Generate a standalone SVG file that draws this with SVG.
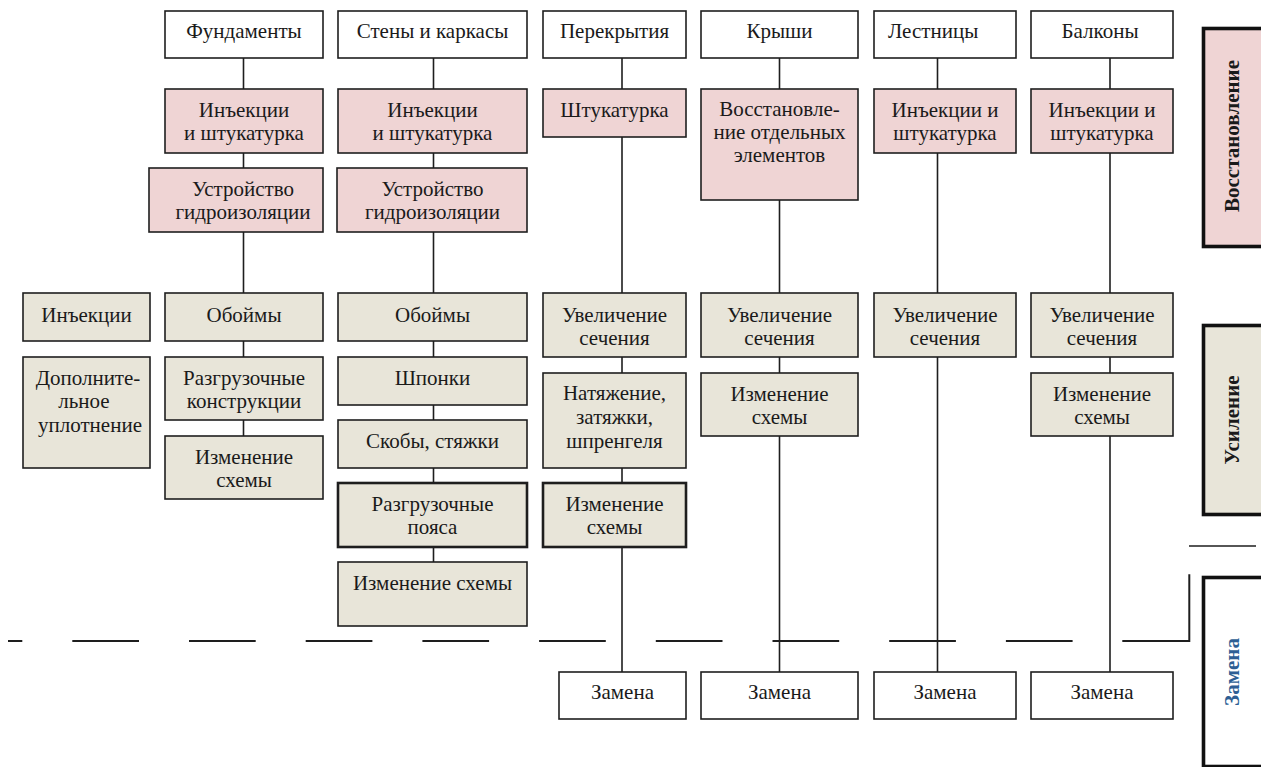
<svg xmlns="http://www.w3.org/2000/svg" width="1261" height="767" viewBox="0 0 1261 767">
<style>
.b{stroke:#1e1e1e;stroke-width:1.6}
.tk{stroke-width:2.6}
.w{fill:#ffffff}
.p{fill:#efd4d4}
.g{fill:#e8e5d9}
.side{stroke:#111;stroke-width:3.6}
text{font-family:"Liberation Serif","Times New Roman",serif;font-size:21px;fill:#1a1a1a;text-anchor:middle}
.st{font-weight:bold;font-size:21px;dominant-baseline:central}
.blue{fill:#2d5f94}
.conn line,.conn path,.conn polyline{stroke:#1e1e1e;stroke-width:1.6;fill:none}
</style>
<rect width="1261" height="767" fill="#ffffff"/>
<g class="conn" id="connectors">
<line x1="243.5" y1="58" x2="243.5" y2="436"/>
<line x1="433.5" y1="58" x2="433.5" y2="562"/>
<line x1="622" y1="58" x2="622" y2="672"/>
<line x1="779.5" y1="58" x2="779.5" y2="672"/>
<line x1="937.5" y1="58" x2="937.5" y2="672"/>
<line x1="1110" y1="58" x2="1110" y2="672"/>
<path d="M8,641 H1122.3" style="stroke-width:2.2;stroke-dasharray:66.7 50;stroke-dashoffset:52.4"/>
<polyline points="1122.3,641 1189.3,641 1189.3,574.3" style="stroke-width:2"/>
<line x1="1189" y1="546" x2="1256" y2="546" style="stroke-width:1.4"/>
</g>
<g id="h1"><rect class="b w" x="165" y="11" width="158" height="47"/><text x="244" y="37.5">Фундаменты</text></g>
<g id="h2"><rect class="b w" x="338" y="11" width="189" height="47"/><text x="432.5" y="37.5">Стены и каркасы</text></g>
<g id="h3"><rect class="b w" x="543" y="11" width="143" height="47"/><text x="614.5" y="37.5">Перекрытия</text></g>
<g id="h4"><rect class="b w" x="701" y="11" width="157" height="47"/><text x="779.5" y="37.5">Крыши</text></g>
<g id="h5"><rect class="b w" x="874" y="11" width="142" height="47"/><text x="888" y="37.5" style="text-anchor:start">Лестницы</text></g>
<g id="h6"><rect class="b w" x="1031" y="11" width="142" height="47"/><text x="1100" y="37.5">Балконы</text></g>

<g id="r1"><rect class="b p" x="165" y="89" width="158" height="64"/><text x="244" y="116.5">Инъекции</text><text x="244" y="139.8">и штукатурка</text></g>
<g id="r2"><rect class="b p" x="149" y="168" width="174" height="64"/><text x="243" y="195.5">Устройство</text><text x="243" y="218.8">гидроизоляции</text></g>
<g id="r3"><rect class="b p" x="338" y="89" width="189" height="64"/><text x="432.5" y="116.5">Инъекции</text><text x="432.5" y="139.8">и штукатурка</text></g>
<g id="r4"><rect class="b p" x="337" y="168" width="190" height="64"/><text x="432.5" y="195.5">Устройство</text><text x="432.5" y="218.8">гидроизоляции</text></g>
<g id="r5"><rect class="b p" x="543" y="89" width="143" height="48"/><text x="614.5" y="116.5">Штукатурка</text></g>
<g id="r6"><rect class="b p" x="701" y="89" width="157" height="111"/><text x="779.5" y="115.5">Восстановле-</text><text x="779.5" y="138.8">ние отдельных</text><text x="779.5" y="162.1">элементов</text></g>
<g id="r7"><rect class="b p" x="874" y="89" width="142" height="64"/><text x="945" y="116.5">Инъекции и</text><text x="945" y="139.8">штукатурка</text></g>
<g id="r8"><rect class="b p" x="1031" y="89" width="142" height="64"/><text x="1102" y="116.5">Инъекции и</text><text x="1102" y="139.8">штукатурка</text></g>

<g id="s0a"><rect class="b g" x="23" y="293" width="127" height="48"/><text x="86.5" y="321.5">Инъекции</text></g>
<g id="s0b"><rect class="b g" x="23" y="357" width="127" height="111"/><text x="88" y="385">Дополните-</text><text x="84" y="408.3">льное</text><text x="90" y="431.6">уплотнение</text></g>
<g id="s1a"><rect class="b g" x="165" y="293" width="158" height="48"/><text x="244" y="321.5">Обоймы</text></g>
<g id="s1b"><rect class="b g" x="165" y="357" width="158" height="63"/><text x="244" y="385">Разгрузочные</text><text x="244" y="408.3">конструкции</text></g>
<g id="s1c"><rect class="b g" x="165" y="436" width="158" height="63"/><text x="244" y="464">Изменение</text><text x="244" y="487.3">схемы</text></g>
<g id="s2a"><rect class="b g" x="338" y="293" width="189" height="48"/><text x="432.5" y="321.5">Обоймы</text></g>
<g id="s2b"><rect class="b g" x="338" y="357" width="189" height="48"/><text x="432.5" y="385">Шпонки</text></g>
<g id="s2c"><rect class="b g" x="338" y="420" width="189" height="48"/><text x="432.5" y="448">Скобы, стяжки</text></g>
<g id="s2d"><rect class="b g tk" x="338" y="483" width="189" height="64"/><text x="432.5" y="510.5">Разгрузочные</text><text x="432.5" y="533.8">пояса</text></g>
<g id="s2e"><rect class="b g" x="338" y="562" width="189" height="64"/><text x="432.5" y="589.5">Изменение схемы</text></g>
<g id="s3a"><rect class="b g" x="543" y="293" width="143" height="64"/><text x="614.5" y="321.5">Увеличение</text><text x="614.5" y="344.8">сечения</text></g>
<g id="s3b"><rect class="b g" x="543" y="373" width="143" height="95"/><text x="614.5" y="400">Натяжение,</text><text x="614.5" y="423.5">затяжки,</text><text x="614.5" y="447.5">шпренгеля</text></g>
<g id="s3c"><rect class="b g tk" x="543" y="483" width="143" height="64"/><text x="614.5" y="510.5">Изменение</text><text x="614.5" y="533.8">схемы</text></g>
<g id="s4a"><rect class="b g" x="701" y="293" width="157" height="64"/><text x="779.5" y="321.5">Увеличение</text><text x="779.5" y="344.8">сечения</text></g>
<g id="s4b"><rect class="b g" x="701" y="373" width="157" height="63"/><text x="779.5" y="400.5">Изменение</text><text x="779.5" y="423.8">схемы</text></g>
<g id="s5a"><rect class="b g" x="874" y="293" width="142" height="64"/><text x="945" y="321.5">Увеличение</text><text x="945" y="344.8">сечения</text></g>
<g id="s6a"><rect class="b g" x="1031" y="293" width="142" height="64"/><text x="1102" y="321.5">Увеличение</text><text x="1102" y="344.8">сечения</text></g>
<g id="s6b"><rect class="b g" x="1031" y="373" width="142" height="63"/><text x="1102" y="400.5">Изменение</text><text x="1102" y="423.8">схемы</text></g>

<g id="z3"><rect class="b w" x="559" y="672" width="127" height="47"/><text x="622.5" y="698.5">Замена</text></g>
<g id="z4"><rect class="b w" x="701" y="672" width="157" height="47"/><text x="779.5" y="698.5">Замена</text></g>
<g id="z5"><rect class="b w" x="874" y="672" width="142" height="47"/><text x="945" y="698.5">Замена</text></g>
<g id="z6"><rect class="b w" x="1031" y="672" width="142" height="47"/><text x="1102" y="698.5">Замена</text></g>

<g id="side1"><rect class="side p" x="1203.5" y="28.5" width="70" height="218"/><text class="st" transform="translate(1232,136) rotate(-90)">Восстановление</text></g>
<g id="side2"><rect class="side g" x="1203.5" y="325.5" width="70" height="189"/><text class="st" transform="translate(1232,420) rotate(-90)">Усиление</text></g>
<g id="side3"><rect class="side w" x="1203.5" y="577.5" width="70" height="189"/><text class="st blue" transform="translate(1232,672) rotate(-90)">Замена</text></g>
</svg>
